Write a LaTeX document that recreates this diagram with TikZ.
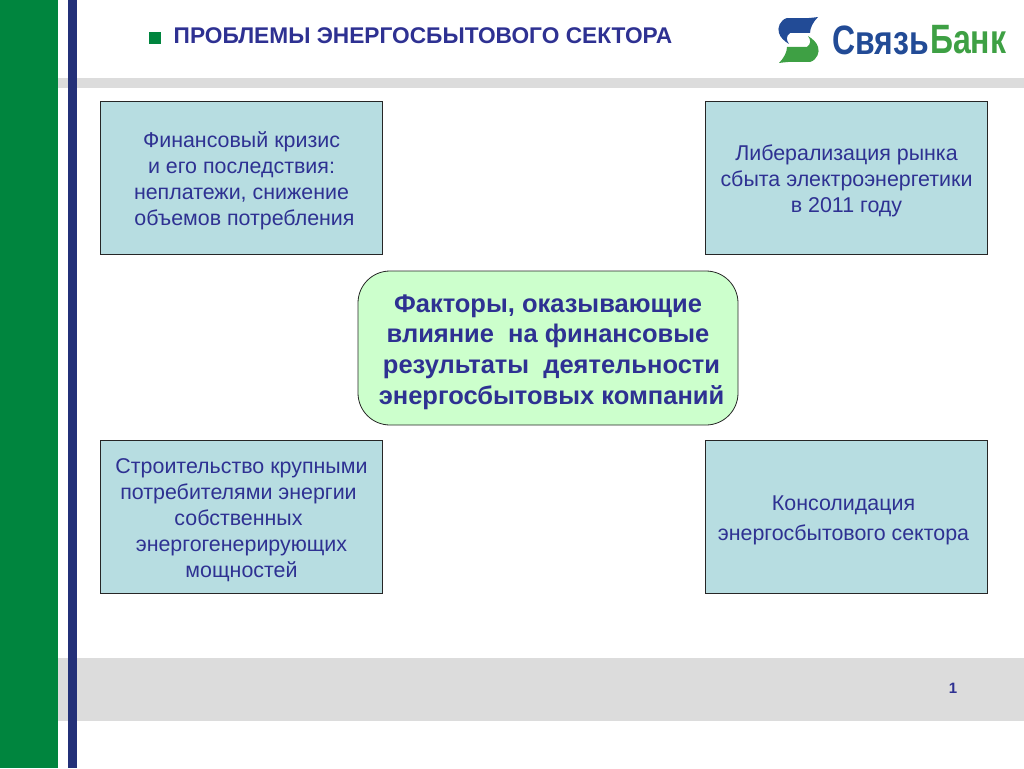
\documentclass[tikz,border=0pt]{standalone}
\usepackage{fontspec}
\setmainfont{Liberation Sans}
\usetikzlibrary{positioning, calc}
\definecolor{BankGruen}{RGB}{0,133,62}
\definecolor{BankBlau}{RGB}{35,48,120}
\definecolor{TextBlau}{RGB}{46,49,146}
\definecolor{LogoBlau}{RGB}{34,75,150}
\definecolor{LogoGruen}{RGB}{62,160,68}
\definecolor{BandGrau}{RGB}{220,220,220}
\definecolor{BoxBlau}{RGB}{183,221,225}
\definecolor{BoxGruen}{RGB}{204,255,204}
\newcommand{\topgap}{\rule{0pt}{1em}}
\newcommand{\tailgap}{\kern6pt}
\tikzset{
    factorbox/.style={shape=rectangle, draw=black!85, fill=BoxBlau, line width=0.8pt,
        minimum width=282pt, minimum height=153pt, inner sep=0pt, align=center,
        text=TextBlau, font=\fontsize{21.4}{25.8}\selectfont},
    mainbox/.style={shape=rectangle, rounded corners=32pt, draw=black!85, fill=BoxGruen, line width=0.8pt,
        minimum width=380pt, minimum height=154pt, inner sep=0pt, align=center,
        text=TextBlau, font=\fontsize{25.5}{30.7}\selectfont\bfseries},
}
\begin{document}
\begin{tikzpicture}[x=1pt, y=-1pt]
    \useasboundingbox (0,0) rectangle (1024,768);
    % bands and side bars
    \fill[BandGrau] (58,78) rectangle (1024,88);
    \fill[BandGrau] (58,658) rectangle (1024,721);
    \fill[BankGruen] (0,0) rectangle (58,768);
    \fill[BankBlau] (68,0) rectangle (76.5,768);
    % heading
    \node[shape=rectangle, fill=BankGruen, minimum width=12pt, minimum height=12pt, inner sep=0pt] (bullet) at (155,38) {};
    \node[anchor=west, inner sep=0pt, text=TextBlau, font=\fontsize{22.7}{26}\selectfont\bfseries] (title) at (173.5,36) {ПРОБЛЕМЫ ЭНЕРГОСБЫТОВОГО СЕКТОРА};
    % logo
    \fill[LogoBlau] (818,17) .. controls (805,19) and (795,18) .. (787,18)
        .. controls (780,20) and (777,28) .. (779,33) .. controls (780,37) and (784,41) .. (789,44)
        .. controls (786,40) and (786,36) .. (790,33) -- (810,33) .. controls (810,28) and (813,22) .. (818,17) -- cycle;
    \fill[LogoGruen] (779,63) .. controls (792,61) and (802,62) .. (810,62)
        .. controls (817,60) and (820,52) .. (818,47) .. controls (817,43) and (813,39) .. (808,36)
        .. controls (811,40) and (811,44) .. (807,47) -- (787,47) .. controls (787,52) and (784,58) .. (779,63) -- cycle;
    \node[anchor=west, inner sep=0pt, text=LogoBlau, font=\fontsize{41}{44}\selectfont\bfseries, xscale=0.78] (logoa) at (832,40) {Связь};
    \node[anchor=west, inner sep=0pt, text=LogoGruen, font=\fontsize{41}{44}\selectfont\bfseries, xscale=0.78] (logob) at (930,40) {Банк};
    % boxes
    \node[mainbox] (factors) at (548,348) {\topgap Факторы, оказывающие\\влияние\ \ на финансовые\\\ результаты\ \ деятельности\\\ энергосбытовых компаний};
    \node[factorbox] (crisis) at (241.5,178) {\topgap Финансовый кризис\\и его последствия:\\неплатежи, снижение\\\ объемов потребления};
    \node[factorbox] (market) at (846.5,178) {\topgap Либерализация рынка\\сбыта электроэнергетики\\в 2011 году};
    \node[factorbox] (power) at (241.5,517) {\topgap Строительство крупными\\потребителями энергии\tailgap\\собственных\tailgap\\энергогенерирующих\\мощностей};
    \node[factorbox, font=\fontsize{21.4}{30}\selectfont] (merge) at (846.5,517) {\topgap Консолидация\tailgap\\энергосбытового сектора\tailgap};
    % page number
    \node[inner sep=0pt, text=TextBlau, font=\fontsize{15}{17}\selectfont\bfseries] (page) at (953,688) {1};
\end{tikzpicture}
\end{document}
